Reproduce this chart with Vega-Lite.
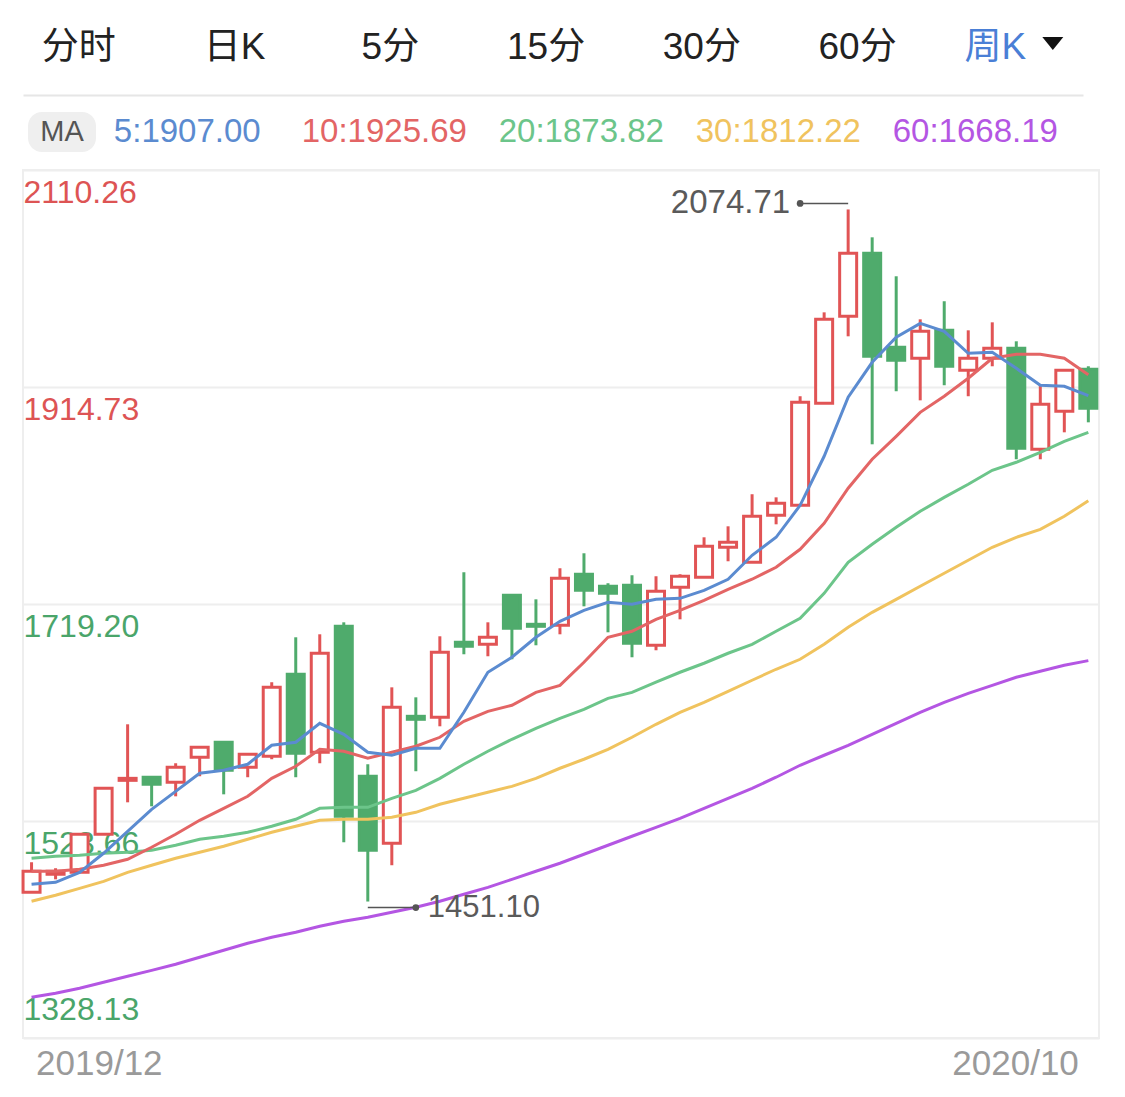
{
  "$schema": "https://vega.github.io/schema/vega-lite/v6.json",
  "background": "white",
  "padding": {"left": 20, "top": 0, "right": 0, "bottom": 0},
  "spacing": 0,
  "config": {"view": {"stroke": null}, "font": "Liberation Sans, Noto Sans CJK SC"},
  "datasets": {
    "weekly": [
      {"date":"2019-12-09","open":1459.4,"high":1486.5,"low":1459.4,"close":1478.4,"ma5":1466.6,"ma10":1478.4,"ma20":1490.1,"ma30":1451.3,"ma60":1364.8},
      {"date":"2019-12-16","open":1475.6,"high":1481.1,"low":1471.1,"close":1478.4,"ma5":1468.4,"ma10":1478.4,"ma20":1491.9,"ma30":1456.7,"ma60":1368.4},
      {"date":"2019-12-23","open":1477.4,"high":1511.7,"low":1477.4,"close":1511.7,"ma5":1477.4,"ma10":1480.2,"ma20":1492.8,"ma30":1463.0,"ma60":1372.9},
      {"date":"2019-12-30","open":1511.7,"high":1553.1,"low":1511.7,"close":1553.1,"ma5":1494.6,"ma10":1483.8,"ma20":1494.6,"ma30":1469.3,"ma60":1378.3},
      {"date":"2020-01-06","open":1560.3,"high":1610.8,"low":1540.5,"close":1562.1,"ma5":1514.4,"ma10":1489.2,"ma20":1495.5,"ma30":1477.4,"ma60":1383.7},
      {"date":"2020-01-13","open":1563.1,"high":1563.1,"low":1536.9,"close":1556.7,"ma5":1534.2,"ma10":1500.0,"ma20":1497.3,"ma30":1483.8,"ma60":1389.1},
      {"date":"2020-01-20","open":1558.5,"high":1575.7,"low":1545.9,"close":1572.1,"ma5":1550.4,"ma10":1511.7,"ma20":1501.8,"ma30":1490.1,"ma60":1394.6},
      {"date":"2020-01-27","open":1581.1,"high":1590.1,"low":1564.0,"close":1590.1,"ma5":1566.7,"ma10":1524.3,"ma20":1507.2,"ma30":1495.5,"ma60":1400.9},
      {"date":"2020-02-03","open":1594.6,"high":1594.6,"low":1547.7,"close":1569.4,"ma5":1569.4,"ma10":1535.1,"ma20":1509.9,"ma30":1500.9,"ma60":1407.2},
      {"date":"2020-02-10","open":1572.1,"high":1583.8,"low":1563.1,"close":1583.8,"ma5":1574.8,"ma10":1545.9,"ma20":1513.5,"ma30":1507.2,"ma60":1413.5},
      {"date":"2020-02-17","open":1582.0,"high":1648.7,"low":1579.3,"close":1644.1,"ma5":1591.9,"ma10":1562.1,"ma20":1518.9,"ma30":1513.5,"ma60":1418.9},
      {"date":"2020-02-24","open":1655.9,"high":1689.2,"low":1563.1,"close":1584.7,"ma5":1594.6,"ma10":1573.0,"ma20":1525.2,"ma30":1518.9,"ma60":1423.4},
      {"date":"2020-03-02","open":1585.6,"high":1691.9,"low":1575.7,"close":1674.8,"ma5":1611.7,"ma10":1588.3,"ma20":1535.1,"ma30":1524.3,"ma60":1428.8},
      {"date":"2020-03-09","open":1699.1,"high":1702.7,"low":1504.5,"close":1527.9,"ma5":1601.8,"ma10":1586.5,"ma20":1536.0,"ma30":1525.2,"ma60":1433.3},
      {"date":"2020-03-16","open":1564.0,"high":1574.8,"low":1451.1,"close":1497.3,"ma5":1585.6,"ma10":1580.2,"ma20":1536.0,"ma30":1525.2,"ma60":1436.9},
      {"date":"2020-03-23","open":1503.6,"high":1644.1,"low":1483.8,"close":1626.1,"ma5":1582.9,"ma10":1585.6,"ma20":1544.1,"ma30":1527.0,"ma60":1441.4},
      {"date":"2020-03-30","open":1618.0,"high":1635.1,"low":1568.5,"close":1615.3,"ma5":1589.2,"ma10":1591.0,"ma20":1551.3,"ma30":1531.5,"ma60":1445.9},
      {"date":"2020-04-06","open":1617.1,"high":1690.1,"low":1609.0,"close":1675.7,"ma5":1589.2,"ma10":1599.1,"ma20":1562.1,"ma30":1538.7,"ma60":1451.3},
      {"date":"2020-04-13","open":1684.7,"high":1747.8,"low":1673.9,"close":1681.1,"ma5":1621.6,"ma10":1613.5,"ma20":1574.8,"ma30":1544.1,"ma60":1457.6},
      {"date":"2020-04-20","open":1682.9,"high":1702.7,"low":1672.1,"close":1689.2,"ma5":1657.7,"ma10":1622.5,"ma20":1586.5,"ma30":1549.5,"ma60":1463.9},
      {"date":"2020-04-27","open":1727.0,"high":1727.0,"low":1669.4,"close":1697.3,"ma5":1671.2,"ma10":1627.9,"ma20":1597.3,"ma30":1554.9,"ma60":1471.1},
      {"date":"2020-05-04","open":1700.9,"high":1723.4,"low":1682.0,"close":1699.1,"ma5":1689.2,"ma10":1639.6,"ma20":1607.2,"ma30":1562.1,"ma60":1478.4},
      {"date":"2020-05-11","open":1700.0,"high":1751.4,"low":1691.9,"close":1742.4,"ma5":1703.6,"ma10":1645.9,"ma20":1616.2,"ma30":1571.2,"ma60":1485.6},
      {"date":"2020-05-18","open":1746.0,"high":1764.9,"low":1717.1,"close":1731.5,"ma5":1713.5,"ma10":1666.7,"ma20":1624.3,"ma30":1579.3,"ma60":1493.7},
      {"date":"2020-05-25","open":1735.2,"high":1737.9,"low":1693.7,"close":1728.8,"ma5":1720.7,"ma10":1689.2,"ma20":1634.2,"ma30":1588.3,"ma60":1501.8},
      {"date":"2020-06-01","open":1736.1,"high":1745.1,"low":1671.2,"close":1683.8,"ma5":1718.9,"ma10":1694.6,"ma20":1639.6,"ma30":1599.1,"ma60":1509.9},
      {"date":"2020-06-08","open":1682.0,"high":1744.2,"low":1677.5,"close":1730.6,"ma5":1723.4,"ma10":1705.4,"ma20":1648.7,"ma30":1610.8,"ma60":1518.0},
      {"date":"2020-06-15","open":1734.3,"high":1746.0,"low":1705.4,"close":1744.2,"ma5":1724.3,"ma10":1713.5,"ma20":1657.7,"ma30":1621.6,"ma60":1526.1},
      {"date":"2020-06-22","open":1743.3,"high":1779.3,"low":1743.3,"close":1771.2,"ma5":1731.5,"ma10":1722.5,"ma20":1665.8,"ma30":1630.6,"ma60":1535.1},
      {"date":"2020-06-29","open":1770.3,"high":1789.2,"low":1757.7,"close":1774.8,"ma5":1741.5,"ma10":1732.4,"ma20":1674.8,"ma30":1640.5,"ma60":1544.1},
      {"date":"2020-07-06","open":1756.8,"high":1818.1,"low":1756.8,"close":1798.2,"ma5":1763.1,"ma10":1741.5,"ma20":1682.9,"ma30":1650.5,"ma60":1553.1},
      {"date":"2020-07-13","open":1799.1,"high":1815.3,"low":1791.0,"close":1809.9,"ma5":1779.3,"ma10":1752.3,"ma20":1694.6,"ma30":1660.4,"ma60":1563.1},
      {"date":"2020-07-20","open":1808.1,"high":1906.4,"low":1808.1,"close":1900.9,"ma5":1808.1,"ma10":1768.5,"ma20":1706.3,"ma30":1669.4,"ma60":1573.9},
      {"date":"2020-07-27","open":1900.0,"high":1982.0,"low":1900.0,"close":1975.7,"ma5":1852.3,"ma10":1791.9,"ma20":1728.8,"ma30":1682.9,"ma60":1582.9},
      {"date":"2020-08-03","open":1978.4,"high":2074.71,"low":1960.4,"close":2035.2,"ma5":1905.5,"ma10":1823.5,"ma20":1756.8,"ma30":1698.2,"ma60":1591.9},
      {"date":"2020-08-10","open":2035.2,"high":2049.6,"low":1863.1,"close":1942.4,"ma5":1937.0,"ma10":1849.6,"ma20":1773.0,"ma30":1711.7,"ma60":1601.8},
      {"date":"2020-08-17","open":1950.5,"high":2014.5,"low":1910.9,"close":1938.8,"ma5":1959.5,"ma10":1870.3,"ma20":1788.3,"ma30":1723.4,"ma60":1611.7},
      {"date":"2020-08-24","open":1940.6,"high":1975.7,"low":1902.7,"close":1964.9,"ma5":1972.1,"ma10":1891.9,"ma20":1802.7,"ma30":1735.2,"ma60":1621.6},
      {"date":"2020-08-31","open":1965.8,"high":1992.0,"low":1916.3,"close":1933.4,"ma5":1964.9,"ma10":1906.4,"ma20":1815.3,"ma30":1746.9,"ma60":1630.6},
      {"date":"2020-09-07","open":1929.8,"high":1965.8,"low":1906.4,"close":1940.6,"ma5":1945.1,"ma10":1922.6,"ma20":1827.1,"ma30":1758.6,"ma60":1638.7},
      {"date":"2020-09-14","open":1940.6,"high":1973.0,"low":1933.4,"close":1949.6,"ma5":1946.0,"ma10":1940.6,"ma20":1839.7,"ma30":1770.3,"ma60":1645.9},
      {"date":"2020-09-21","open":1949.6,"high":1955.9,"low":1849.6,"close":1859.5,"ma5":1931.6,"ma10":1944.2,"ma20":1846.9,"ma30":1779.3,"ma60":1653.2},
      {"date":"2020-09-28","open":1858.6,"high":1917.2,"low":1849.6,"close":1899.1,"ma5":1916.3,"ma10":1944.2,"ma20":1855.9,"ma30":1786.5,"ma60":1658.6},
      {"date":"2020-10-05","open":1892.8,"high":1929.8,"low":1873.9,"close":1929.8,"ma5":1915.4,"ma10":1940.6,"ma20":1865.8,"ma30":1798.2,"ma60":1664.0},
      {"date":"2020-10-12","open":1930.7,"high":1933.4,"low":1882.9,"close":1895.5,"ma5":1907.00,"ma10":1925.69,"ma20":1873.82,"ma30":1812.22,"ma60":1668.19}
    ]
  },
  "vconcat": [
    {
      "width": 1060,
      "height": 95,
      "data": {"values": [{"t":"分时"},{"t":"日K"},{"t":"5分"},{"t":"15分"},{"t":"30分"},{"t":"60分"},{"t":"周K"}]},
      "encoding": {
        "x": {"field":"t","type":"nominal","sort":null,
              "scale":{"type":"point","padding":0.403,"align":0.445},
              "axis":{"orient":"bottom","labels":false,"ticks":false,"domain":true,"domainColor":"#e6e6e6","domainWidth":2,"grid":false,"title":null}}
      },
      "layer": [
        {"transform":[{"filter":"indexof(datum.t,'周')<0"}],
         "mark": {"type":"text","fontSize":37,"baseline":"middle","color":"#222222","font":"Liberation Sans, Noto Sans CJK SC"},
         "encoding": {"text":{"field":"t"}}},
        {"transform":[{"filter":"indexof(datum.t,'周')>=0"}],
         "mark": {"type":"text","fontSize":37,"baseline":"middle","dx":-18,"color":"#4a7fd6","font":"Liberation Sans, Noto Sans CJK SC"},
         "encoding": {"text":{"field":"t"}}},
        {"transform":[{"filter":"indexof(datum.t,'周')>=0"}],
         "mark":{"type":"point","shape":"M -1,-0.62 L 1,-0.62 L 0,0.62 Z","size":441,"filled":true,"color":"#111111","opacity":1,"strokeWidth":0,"xOffset":39.5,"yOffset":-4}}
      ]
    },
    {
      "width": 1060,
      "height": 74,
      "resolve": {"scale": {"x": "independent"}},
      "layer": [
        {"data": {"values":[{"k":"MA"}]},
         "mark": {"type":"point","shape":"M -0.588,-0.588 L 0.588,-0.588 A 0.412,0.412 0 0 1 1,-0.176 L 1,0.176 A 0.412,0.412 0 0 1 0.588,0.588 L -0.588,0.588 A 0.412,0.412 0 0 1 -1,0.176 L -1,-0.176 A 0.412,0.412 0 0 1 -0.588,-0.588 Z","size":4624,"filled":true,"color":"#efefef","opacity":1,"strokeWidth":0},
         "encoding": {"x": {"field":"k","type":"nominal","scale":{"type":"point","padding":0,"align":0.0368},"axis":null}}},
        {"data": {"values":[{"k":"MA"}]},
         "mark": {"type":"text","fontSize":29,"baseline":"middle","color":"#555555"},
         "encoding": {"x": {"field":"k","type":"nominal","scale":{"type":"point","padding":0,"align":0.0368},"axis":null},
                      "text": {"field":"k"}}},
        {"data": {"values":[{"s":"5:1907.00"},{"s":"10:1925.69"},{"s":"20:1873.82"},{"s":"30:1812.22"},{"s":"60:1668.19"}]},
         "mark": {"type":"text","fontSize":33,"baseline":"middle"},
         "encoding": {"x": {"field":"s","type":"nominal","sort":null,"scale":{"type":"point","padding":0.6903,"align":0.604},"axis":null},
                      "text": {"field":"s"},
                      "color": {"field":"s","type":"nominal","sort":null,
                                "scale":{"domain":["5:1907.00","10:1925.69","20:1873.82","30:1812.22","60:1668.19"],
                                         "range":["#5b8bd0","#e36565","#6cc58a","#f0c35e","#b456e3"]},
                                "legend":null}}}
      ]
    },
    {
      "width": 1076,
      "height": 868,
      "view": {"stroke": "#eeeeee", "strokeWidth": 2},
      "data": {"name": "weekly"},
      "encoding": {
        "x": {"field":"date","type":"ordinal",
              "scale":{"type":"point","padding":0.4,"align":0.445},
              "axis":{"values":["2019-12-09","2020-10-12"],
                      "labelExpr":"datum.value == '2019-12-09' ? '2019/12' : '2020/10'",
                      "labelAlign":{"condition":{"test":"datum.value == '2019-12-09'","value":"left"},"value":"right"},
                      "labelOffset":{"condition":{"test":"datum.value == '2019-12-09'","value":4},"value":-10},
                      "labelFontSize":35,"labelColor":"#9a9a9a","labelPadding":8,"labelAngle":0,
                      "ticks":false,"tickSize":0,"domain":false,"grid":false,"title":null,
                      "labelOverlap":false,"labelBound":false,"labelFlush":false}}
      },
      "layer": [
        {"mark": {"type":"rule","strokeWidth":3},
         "encoding": {
           "y": {"field":"low","type":"quantitative","scale":{"domain":[1328.13,2110.26],"zero":false,"nice":false},
                 "axis":{"values":[1328.13,1523.66,1719.2,1914.73,2110.26],
                         "labelExpr":"format(datum.value,'.2f')",
                         "labelAlign":"left","labelBaseline":"alphabetic","labelPadding":0,
                         "ticks":false,"tickSize":0,"domain":false,
                         "grid":true,"gridColor":"#eeeeee","gridWidth":2,
                         "labelFontSize":32,
                         "labelColor":{"condition":{"test":"datum.value > 1800","value":"#dd5454"},"value":"#4aa56a"},
                         "labelOffset":{"condition":{"test":"datum.value < 1400","value":-19},"value":32.5},
                         "title":null,"labelOverlap":false,"labelBound":false,"labelFlush":false}},
           "y2": {"field":"high"},
           "color": {"condition":{"test":"datum.close >= datum.open","value":"#e15455"},"value":"#4fab6c"}
         }},
        {"mark": {"type":"bar","size":17,"strokeWidth":3},
         "encoding": {
           "y": {"field":"open","type":"quantitative","scale":{"domain":[1328.13,2110.26],"zero":false,"nice":false},"title":null},
           "y2": {"field":"close"},
           "fill": {"condition":{"test":"datum.close >= datum.open","value":"#ffffff"},"value":"#4fab6c"},
           "stroke": {"condition":{"test":"datum.close >= datum.open","value":"#e15455"},"value":"#4fab6c"}
         }},
        {"transform": [{"fold": ["ma60","ma30","ma20","ma10","ma5"], "as": ["ma","val"]}],
         "mark": {"type":"line","strokeWidth":3},
         "encoding": {
           "y": {"field":"val","type":"quantitative","scale":{"domain":[1328.13,2110.26],"zero":false,"nice":false},"title":null},
           "color": {"field":"ma","type":"nominal",
                     "scale":{"domain":["ma5","ma10","ma20","ma30","ma60"],"range":["#5b8bd0","#e36565","#6cc58a","#f0c35e","#b456e3"]},
                     "legend":null}
         }},
        {"data": {"values": [{"date":"2020-07-20","date2":"2020-08-03","v":2074.71}]},
         "layer": [
           {"mark": {"type":"rule","color":"#555555","strokeWidth":1.5,"yOffset":-6},
            "encoding": {"x2":{"field":"date2"},
                         "y":{"field":"v","type":"quantitative","scale":{"domain":[1328.13,2110.26],"zero":false,"nice":false},"title":null}}},
           {"mark": {"type":"point","filled":true,"color":"#555555","size":45,"opacity":1,"yOffset":-6},
            "encoding": {"y":{"field":"v","type":"quantitative","scale":{"domain":[1328.13,2110.26],"zero":false,"nice":false},"title":null}}},
           {"mark": {"type":"text","align":"right","dx":-10,"baseline":"middle","fontSize":33,"color":"#5a5a5a","yOffset":-6},
            "encoding": {"y":{"field":"v","type":"quantitative","scale":{"domain":[1328.13,2110.26],"zero":false,"nice":false},"title":null},
                         "text":{"field":"v","type":"quantitative","format":".2f"}}}
         ]},
        {"data": {"values": [{"date":"2020-03-30","date2":"2020-03-16","v":1451.10}]},
         "layer": [
           {"mark": {"type":"rule","color":"#555555","strokeWidth":1.5,"yOffset":6},
            "encoding": {"x2":{"field":"date2"},
                         "y":{"field":"v","type":"quantitative","scale":{"domain":[1328.13,2110.26],"zero":false,"nice":false},"title":null}}},
           {"mark": {"type":"point","filled":true,"color":"#555555","size":45,"opacity":1,"yOffset":6},
            "encoding": {"y":{"field":"v","type":"quantitative","scale":{"domain":[1328.13,2110.26],"zero":false,"nice":false},"title":null}}},
           {"mark": {"type":"text","align":"left","dx":12,"baseline":"middle","fontSize":31,"color":"#5a5a5a","yOffset":6},
            "encoding": {"y":{"field":"v","type":"quantitative","scale":{"domain":[1328.13,2110.26],"zero":false,"nice":false},"title":null},
                         "text":{"field":"v","type":"quantitative","format":".2f"}}}
         ]}
      ]
    }
  ]
}
